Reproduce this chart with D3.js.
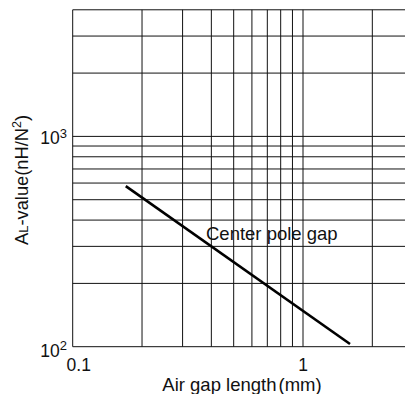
<!DOCTYPE html>
<html><head><meta charset="utf-8">
<script src="https://cdn.jsdelivr.net/npm/d3@7"></script>
<style>
html,body{margin:0;padding:0;background:#fff;}
svg{display:block;font-family:"Liberation Sans",Arial,Helvetica,sans-serif;}
</style></head>
<body>
<svg id="c" width="405" height="394"></svg>
<script>
// Data
const gapLength = [0.17, 1.6];          // mm
const alValue = [580, 103];             // nH/N^2
const seriesLabel = "Center pole gap";
const xGrid = [0.2, 0.3, 0.4, 0.5, 0.6, 0.7, 0.8, 0.9, 1, 2];
const yGrid = [200, 300, 400, 500, 600, 700, 800, 900, 1000, 2000, 3000];
const xTickValues = [0.1, 1];
const xTickLabels = ["0.1", "1"];
const yTickValues = [100, 1000];
const yTickBase = ["10", "10"];
const yTickExp = ["2", "3"];

const svg = d3.select("#c");
const L = 72.7, B = 346.7, decX = 230.3, decY = 210.3;
const xMax = 2.8, yMax = 4000;
const x = d3.scaleLog().domain([0.1, xMax]).range([L, L + decX * Math.log10(xMax / 0.1)]);
const y = d3.scaleLog().domain([100, yMax]).range([B, B - decY * Math.log10(yMax / 100)]);

const g = svg.append("g");
const x0 = x.range()[0], x1 = x.range()[1], y0 = y.range()[0], y1 = y.range()[1];

// gridlines
g.selectAll(".vg").data(xGrid).join("line")
  .attr("x1", d => x(d)).attr("x2", d => x(d)).attr("y1", y0).attr("y2", y1)
  .attr("stroke", "#111").attr("stroke-width", 1);
g.selectAll(".hg").data(yGrid).join("line")
  .attr("x1", x0).attr("x2", x1).attr("y1", d => y(d)).attr("y2", d => y(d))
  .attr("stroke", "#111").attr("stroke-width", 1);
// borders (left, bottom, top)
g.append("line").attr("x1", x0).attr("x2", x0).attr("y1", y0).attr("y2", y1).attr("stroke", "#111");
g.append("line").attr("x1", x0).attr("x2", x1).attr("y1", y0).attr("y2", y0).attr("stroke", "#111");
g.append("line").attr("x1", x0).attr("x2", x1).attr("y1", y1).attr("y2", y1).attr("stroke", "#111");

// curve
const pts = gapLength.map((d, i) => [d, alValue[i]]);
g.append("path").datum(pts)
  .attr("d", d3.line().x(d => x(d[0])).y(d => y(d[1])))
  .attr("fill", "none").attr("stroke", "#000").attr("stroke-width", 2.6);

// annotation
g.append("text").attr("x", 206).attr("y", 239.5).attr("font-size", 18.5).attr("fill", "#111").text(seriesLabel);

// x tick labels
g.selectAll(".xt").data(xTickValues).join("text")
  .attr("x", (d, i) => x(d) + (i === 0 ? 6 : 0)).attr("y", 370.5)
  .attr("text-anchor", "middle").attr("font-size", 17.5).attr("fill", "#111")
  .text((d, i) => xTickLabels[i]);

// y tick labels
const yt = g.selectAll(".yt").data(yTickValues).join("text")
  .attr("x", 67).attr("y", (d, i) => y(d) + (i === 0 ? 10 : 8))
  .attr("text-anchor", "end").attr("font-size", 17.5).attr("fill", "#111");
yt.append("tspan").text((d, i) => yTickBase[i]);
yt.append("tspan").attr("dy", -6.5).attr("font-size", 13).text((d, i) => yTickExp[i]);

// x title
const xt = g.append("text").attr("x", 242).attr("y", 390.5).attr("text-anchor", "middle")
  .attr("font-size", 18.5).attr("fill", "#111");
xt.append("tspan").text("Air gap length");
xt.append("tspan").attr("dx", 2).text("(mm)");

// y title
const ytt = g.append("text").attr("transform", "translate(27.5,180) rotate(-90)")
  .attr("text-anchor", "middle").attr("font-size", 18.3).attr("fill", "#111");
ytt.append("tspan").text("A");
ytt.append("tspan").attr("font-size", 13).text("L");
ytt.append("tspan").text("-value(nH/N");
ytt.append("tspan").attr("dy", -6.5).attr("font-size", 12.5).text("2");
ytt.append("tspan").attr("dy", 6.5).text(")");
</script>
</body></html>
